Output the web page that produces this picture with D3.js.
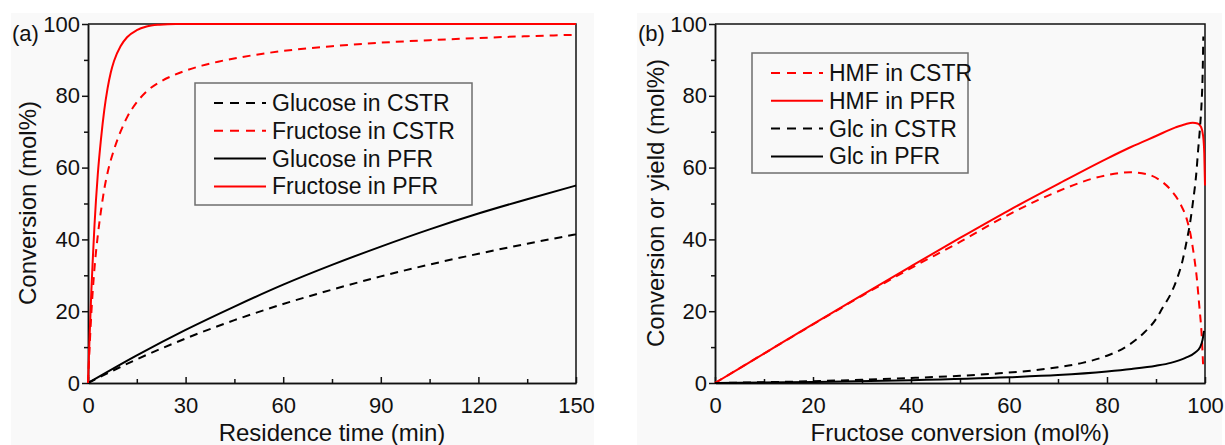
<!DOCTYPE html>
<html>
<head>
	<meta charset="utf-8">
	<title>Conversion charts</title>
	<script src="https://cdn.jsdelivr.net/npm/d3@7"></script>
	<style>
		body { margin: 0; background: #fff; }
		svg text { font-family: "Liberation Sans", Arial, sans-serif; fill: #111; }
	</style>
</head>
<body>

	<script type="text/javascript">

		// ---- data (a): residence time (min) vs conversion (mol%)
		var glucoseCSTR = [[0,0],[15,6.6],[30,12.4],[45,17.5],[60,22],[75,26],[90,29.7],[105,33],[120,36],[135,38.8],[150,41.4]];
		var fructoseCSTR = [[0,0],[1,19],[2,32],[3,41],[4,48],[5,54],[6,58.5],[8,65],[10,70],[12,74],[15,78.2],[18,81.2],[22,83.8],[26,85.6],[30,87],[35,88.4],[40,89.5],[50,91.2],[60,92.5],[75,93.8],[90,94.8],[105,95.5],[120,96.1],[135,96.6],[150,97]];
		var glucosePFR = [[0,0],[15,7.7],[30,14.8],[45,21.3],[60,27.4],[75,32.9],[90,38],[105,42.8],[120,47.2],[135,51.2],[150,55]];
		var fructosePFR = [[0,0],[0.5,13],[1,25],[1.5,35],[2,44],[3,58],[4,68],[5,76],[6,82],[7,86.5],[8,89.7],[10,93.8],[12,96.3],[15,98.3],[18,99.3],[22,99.8],[27,100],[150,100]];

		// ---- data (b): fructose conversion vs conversion or yield (mol%)
		var hmfCSTR = [[0,0],[10,8.2],[20,16.3],[30,24.3],[40,32],[50,39.3],[58,45.5],[66,51],[72,54.5],[76,56.5],[80,57.9],[84.7,58.7],[88,58.2],[91,56.3],[93,53.8],[95,49.8],[96.2,46],[97,41.7],[97.8,35],[98.3,29.6],[98.8,22],[99.3,13.8],[99.66,3.6]];
		var hmfPFR = [[0,0],[10,8.2],[20,16.4],[30,24.5],[40,32.5],[50,40.4],[60,48.1],[70,55.4],[80,62.5],[85,65.8],[90,68.8],[94,71.2],[96,72.1],[97.5,72.5],[98.5,72.3],[99.2,71.3],[99.6,69],[99.85,64],[100,55]];
		var glcCSTR = [[0,0],[20,0.5],[30,0.9],[40,1.4],[50,2],[58,2.7],[65,3.5],[70,4.4],[75,5.6],[80,7.6],[84,10.2],[87.4,13.8],[90,17.8],[91.5,21.3],[93,24.8],[94.2,28.7],[95.4,34],[96.3,39.8],[97,45],[97.6,51],[98.2,58],[98.6,64.9],[99,71.5],[99.3,77.9],[99.5,85],[99.66,96.5]];
		var glcPFR = [[0,0],[20,0.3],[40,0.8],[60,1.6],[70,2.2],[80,3.2],[85,3.9],[90,4.8],[93,5.6],[96,7],[98,8.5],[99,10],[99.5,12],[99.8,14.5]];

		// ---- ticks
		var yTicks = [0, 20, 40, 60, 80, 100];
		var yMinor = [10, 30, 50, 70, 90];
		var xTicksA = [0, 30, 60, 90, 120, 150];
		var xMinorA = [15, 45, 75, 105, 135];
		var xTicksB = [0, 20, 40, 60, 80, 100];
		var xMinorB = [10, 30, 50, 70, 90];

		var seriesA = [
			{name: 'Glucose in CSTR', data: glucoseCSTR, color: '#000', dash: true},
			{name: 'Fructose in CSTR', data: fructoseCSTR, color: '#ff0000', dash: true},
			{name: 'Glucose in PFR', data: glucosePFR, color: '#000', dash: false},
			{name: 'Fructose in PFR', data: fructosePFR, color: '#ff0000', dash: false}
		];
		var seriesB = [
			{name: 'HMF in CSTR', data: hmfCSTR, color: '#ff0000', dash: true},
			{name: 'HMF in PFR', data: hmfPFR, color: '#ff0000', dash: false},
			{name: 'Glc in CSTR', data: glcCSTR, color: '#000', dash: true},
			{name: 'Glc in PFR', data: glcPFR, color: '#000', dash: false}
		];

		var svg = d3.select('body')
					.append('svg')
					.attr('width', 1225)
					.attr('height', 445);

		function panel(opt) {

			// light backdrop of the panel
			svg.append('rect')
			   .attr('x', opt.bg[0]).attr('y', opt.bg[1])
			   .attr('width', opt.bg[2]).attr('height', opt.bg[3])
			   .attr('fill', '#f9f9f9');

			var x = d3.scaleLinear().domain(opt.xDomain).range([opt.left, opt.right]);
			var y = d3.scaleLinear().domain([0, 100]).range([383, 24]);

			var g = svg.append('g');

			// y axis, ticks outward
			g.append('g')
			 .attr('transform', 'translate(' + opt.left + ',0)')
			 .call(d3.axisLeft(y).tickValues(yTicks).tickSize(6).tickSizeOuter(0).tickPadding(2))
			 .call(function(a) { a.selectAll('text').style('font-size', '22px'); });
			g.append('g')
			 .attr('transform', 'translate(' + opt.left + ',0)')
			 .call(d3.axisLeft(y).tickValues(yMinor).tickSize(4).tickSizeOuter(0).tickFormat(''));

			// x axis, ticks inward
			g.append('g')
			 .attr('transform', 'translate(0,383)')
			 .call(d3.axisBottom(x).tickValues(opt.xTicks).tickSize(-6).tickSizeOuter(0).tickPadding(14))
			 .call(function(a) { a.selectAll('text').style('font-size', '22px'); });
			g.append('g')
			 .attr('transform', 'translate(0,383)')
			 .call(d3.axisBottom(x).tickValues(opt.xMinor).tickSize(-4).tickSizeOuter(0).tickFormat(''));

			g.selectAll('.domain, .tick line')
			 .attr('stroke', '#111')
			 .attr('stroke-width', 1.5);
			g.selectAll('.tick text').attr('fill', '#111');

			// top and right frame
			g.append('path')
			 .attr('d', 'M' + opt.left + ',24H' + opt.right + 'V383')
			 .attr('fill', 'none')
			 .attr('stroke', '#111')
			 .attr('stroke-width', 1.5);

			// curves
			var line = d3.line()
						 .x(function(d) { return x(d[0]); })
						 .y(function(d) { return y(d[1]); })
						 .curve(d3.curveMonotoneX);

			svg.append('g')
			   .selectAll('path')
			   .data(opt.series)
			   .enter()
			   .append('path')
			   .attr('d', function(d) { return line(d.data); })
			   .attr('fill', 'none')
			   .attr('stroke', function(d) { return d.color; })
			   .attr('stroke-width', 2)
			   .attr('stroke-dasharray', function(d) { return d.dash ? '8,6' : null; });

			// legend
			var lg = svg.append('g');
			lg.append('rect')
			  .attr('x', opt.legend.x).attr('y', opt.legend.y)
			  .attr('width', opt.legend.w).attr('height', opt.legend.h)
			  .attr('fill', 'none')
			  .attr('stroke', '#6e6e6e')
			  .attr('stroke-width', 1.5);

			var row = lg.selectAll('.row')
						.data(opt.series)
						.enter()
						.append('g')
						.attr('transform', function(d, i) {
							return 'translate(' + (opt.legend.x + 19) + ',' + (opt.legend.y + 20 + i * 27.8) + ')';
						});
			row.append('line')
			   .attr('x1', 0).attr('x2', 52)
			   .attr('stroke', function(d) { return d.color; })
			   .attr('stroke-width', 2)
			   .attr('stroke-dasharray', function(d) { return d.dash ? '9,7' : null; });
			row.append('text')
			   .attr('x', 58)
			   .attr('dy', '0.35em')
			   .style('font-size', '23px')
			   .text(function(d) { return d.name; });

			// titles
			svg.append('text')
			   .attr('x', opt.bg[0] + 1).attr('y', 41)
			   .style('font-size', '22px')
			   .text(opt.tag);

			svg.append('text')
			   .attr('x', (opt.left + opt.right) / 2).attr('y', 441)
			   .style('text-anchor', 'middle')
			   .style('font-size', '24px')
			   .text(opt.xTitle);

			svg.append('text')
			   .attr('transform', 'translate(' + opt.yTitleX + ',203) rotate(-90)')
			   .style('text-anchor', 'middle')
			   .style('font-size', '24px')
			   .text(opt.yTitle);
		}

		panel({
			bg: [11, 13, 583, 432],
			left: 88, right: 576,
			xDomain: [0, 150], xTicks: xTicksA, xMinor: xMinorA,
			series: seriesA,
			legend: {x: 195, y: 83, w: 277, h: 122},
			tag: '(a)',
			xTitle: 'Residence time (min)',
			yTitle: 'Conversion (mol%)',
			yTitleX: 36
		});

		panel({
			bg: [637, 13, 585, 432],
			left: 715, right: 1205,
			xDomain: [0, 100], xTicks: xTicksB, xMinor: xMinorB,
			series: seriesB,
			legend: {x: 752, y: 53, w: 216, h: 120},
			tag: '(b)',
			xTitle: 'Fructose conversion (mol%)',
			yTitle: 'Conversion or yield (mol%)',
			yTitleX: 664
		});

	</script>
</body>
</html>
